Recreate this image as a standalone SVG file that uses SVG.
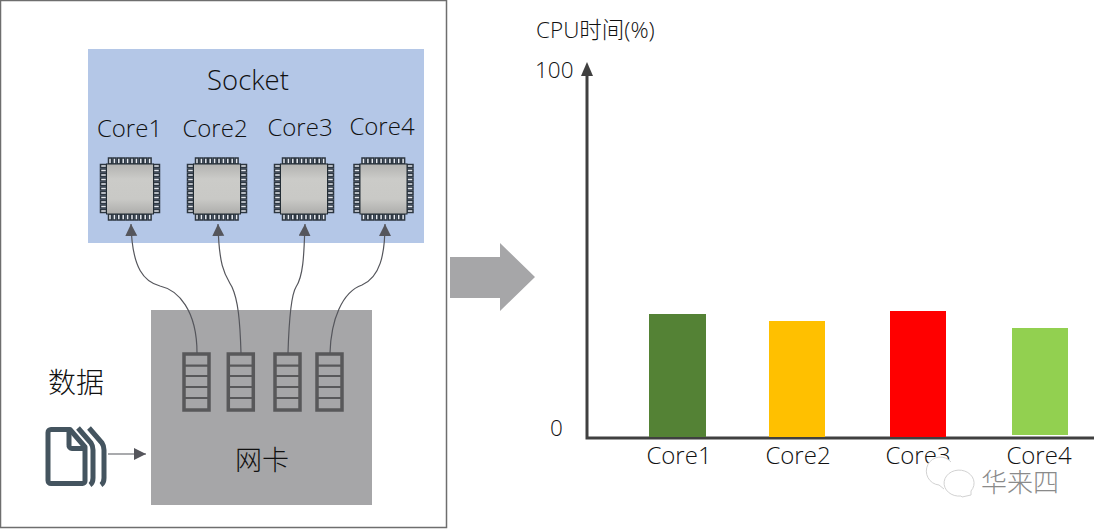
<svg xmlns="http://www.w3.org/2000/svg" width="1097" height="529" viewBox="0 0 1097 529">
<style>
text{font-family:"Open Sans","Noto Sans CJK SC",sans-serif;font-weight:300;fill:#111;font-size:22.500px}
.lb{font-size:24px}
.c{fill:none;stroke:#55565c;stroke-width:1.2}
.q{fill:none;stroke:#58585a;stroke-width:3.500}
.r{fill:none;stroke:#58585a;stroke-width:2.200}
.pin{fill:#e4e8ee;stroke:#2c3640;stroke-width:1.500}
.axis{fill:none;stroke:#404040;stroke-width:3}
.doc{fill:none;stroke:#44545f;stroke-width:5;stroke-linejoin:round}
.wm{fill:#fff;stroke:#d2d2d2;stroke-width:1}
</style>
<defs>
<linearGradient id="chipG" x1="0" y1="0" x2="0" y2="1">
<stop offset="0" stop-color="#b2b2b0"/><stop offset=".3" stop-color="#cbcbc8"/><stop offset=".7" stop-color="#c9c9c6"/><stop offset="1" stop-color="#adadab"/>
</linearGradient>
<marker id="ah" markerWidth="13" markerHeight="13" refX="12" refY="6" orient="auto" markerUnits="userSpaceOnUse"><path d="M0 0L12 6L0 12Z" fill="#55565c"/></marker>
<g id="pinsH">
<rect class="pin" x="0" y="0" width="3" height="6"/><rect class="pin" x="4.400" y="0" width="3" height="6"/><rect class="pin" x="8.800" y="0" width="3" height="6"/><rect class="pin" x="13.200" y="0" width="3" height="6"/><rect class="pin" x="17.600" y="0" width="3" height="6"/><rect class="pin" x="22" y="0" width="3" height="6"/><rect class="pin" x="26.400" y="0" width="3" height="6"/><rect class="pin" x="30.800" y="0" width="3" height="6"/><rect class="pin" x="35.200" y="0" width="3" height="6"/><rect class="pin" x="39.600" y="0" width="3" height="6"/>
</g>
<g id="pinsV">
<rect class="pin" x="0" y="0" width="6" height="3"/><rect class="pin" x="0" y="4.500" width="6" height="3"/><rect class="pin" x="0" y="9" width="6" height="3"/><rect class="pin" x="0" y="13.500" width="6" height="3"/><rect class="pin" x="0" y="18" width="6" height="3"/><rect class="pin" x="0" y="22.500" width="6" height="3"/><rect class="pin" x="0" y="27" width="6" height="3"/><rect class="pin" x="0" y="31.500" width="6" height="3"/><rect class="pin" x="0" y="36" width="6" height="3"/><rect class="pin" x="0" y="40.500" width="6" height="3"/><rect class="pin" x="0" y="45" width="6" height="3"/>
</g>
<g id="chip">
<use href="#pinsH" x="2" y="0"/><use href="#pinsH" x="2" y="56"/><use href="#pinsV" x="-6" y="6.500"/><use href="#pinsV" x="47" y="6.500"/>
<rect x="0" y="6" width="47" height="50" fill="url(#chipG)" stroke="#222c34" stroke-width="1"/>
</g>
<g id="queue">
<rect class="q" x="0" y="0" width="25" height="56"/>
<path class="r" d="M0 11.700H25M0 22H25M0 33H25M0 44H25"/>
</g>
</defs>
<rect width="1097" height="529" fill="#fff"/>
<rect id="frame" x=".5" y=".5" width="446" height="527" fill="#fff" stroke="#6e6e6e" stroke-width="1.500"/>
<g id="socket">
<rect x="88" y="49" width="336" height="194" fill="#b4c7e7"/>
<text x="248" y="90" text-anchor="middle" style="font-size:27.500px">Socket</text>
</g>
<g id="core1"><text class="lb" x="129.500" y="137" text-anchor="middle">Core1</text><use href="#chip" x="106.500" y="158"/></g>
<g id="core2"><text class="lb" x="215" y="137" text-anchor="middle">Core2</text><use href="#chip" x="193.500" y="158"/></g>
<g id="core3"><text class="lb" x="300" y="136" text-anchor="middle">Core3</text><use href="#chip" x="280.500" y="158"/></g>
<g id="core4"><text class="lb" x="382" y="135" text-anchor="middle">Core4</text><use href="#chip" x="360" y="158"/></g>
<g id="nic">
<rect x="151" y="310" width="221" height="195" fill="#a6a6a8"/>
<text x="262" y="470" text-anchor="middle" style="font-size:27px">网卡</text>
<use href="#queue" x="184" y="354"/><use href="#queue" x="228.300" y="354"/><use href="#queue" x="275" y="354"/><use href="#queue" x="317" y="354"/>
</g>
<g id="data">
<text x="76" y="393" text-anchor="middle" style="font-size:28px">数据</text>
<path class="doc" d="M51 429.500H70L85 447V481A2.500 2.500 0 0 1 82.500 483.500H51A3 3 0 0 1 48 480.500V432.500A3 3 0 0 1 51 429.500Z"/>
<path class="doc" d="M69 430V445A3 3 0 0 0 72 448.500H85"/>
<path class="doc" stroke-width="4" d="M78 428L91 443Q93 446 93 450V478Q93 483 90 485"/>
<path class="doc" stroke-width="4" d="M89 428L102 443Q104 446 104 450V478Q104 483 101 485"/>
</g>
<g id="connectors">
<path class="c" marker-end="url(#ah)" d="M197 353C197 310 178 290 160 286C145 282 132 270 131 224"/>
<path class="c" marker-end="url(#ah)" d="M241 353C240 320 238 300 232 287C226 276 219 270 218 224"/>
<path class="c" marker-end="url(#ah)" d="M288 353C289 320 291 295 296 287C304 275 304 250 305 224"/>
<path class="c" marker-end="url(#ah)" d="M330 353C331 320 342 292 362 285C380 277 385 255 385 224"/>
<path class="c" marker-end="url(#ah)" d="M108 454H146"/>
</g>
<path id="bigArrow" d="M450 257H500V243L535 277L500 311V298H450Z" fill="#a6a6a8"/>
<g id="chart">
<text x="536" y="38">CPU时间(%)</text>
<text x="535" y="78">100</text>
<text x="550" y="436">0</text>
<path class="axis" d="M587 72V438H1094"/>
<path d="M581 76L587 62L593 76Z" fill="#404040"/>
<rect x="649" y="314" width="57" height="123" fill="#548235"/>
<rect x="769" y="321" width="56" height="116" fill="#ffc000"/>
<rect x="890" y="311" width="56" height="126" fill="#ff0000"/>
<rect x="1012" y="328" width="56" height="107" fill="#92d050"/>
<text class="lb" x="679" y="464" text-anchor="middle">Core1</text>
<text class="lb" x="798" y="464" text-anchor="middle">Core2</text>
<text class="lb" x="918" y="464" text-anchor="middle">Core3</text>
<text class="lb" x="1039" y="464" text-anchor="middle">Core4</text>
</g>
<g id="watermark">
<path class="wm" d="M944 489L939 485A14 14 0 1 1 951 462"/>
<path class="wm" d="M962 497L971 495L971 491A15 13 0 1 0 961 496Z"/>
<text x="981" y="492" style="font-size:26px;fill:#8a8a8a">华来四</text>
</g>
</svg>
